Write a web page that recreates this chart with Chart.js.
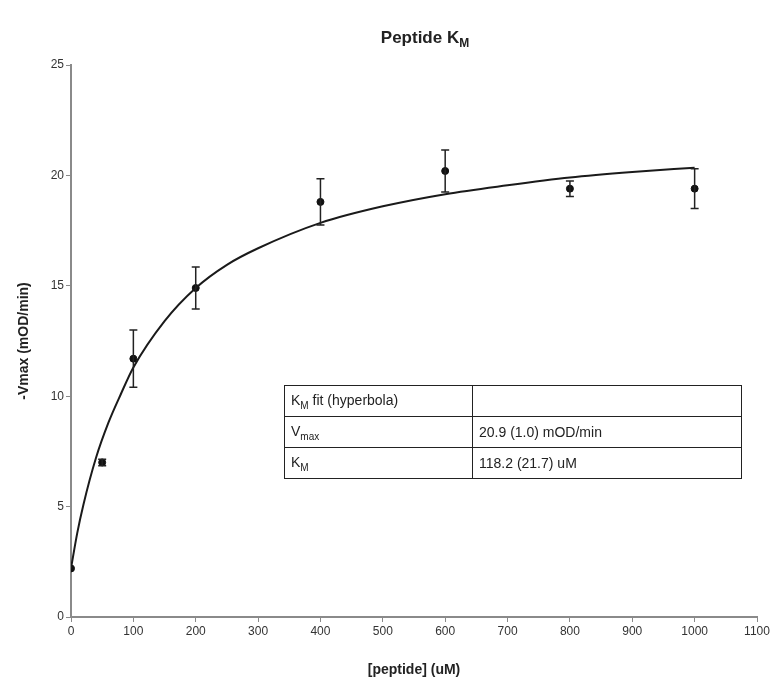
<!DOCTYPE html>
<html>
<head>
<meta charset="utf-8">
<title>Peptide KM</title>
<style>
body{margin:0;background:#fff;font-family:"Liberation Sans",Arial,sans-serif;}
#wrap{position:relative;width:776px;height:683px;}
#title{position:absolute;left:0;width:850px;top:28px;text-align:center;font-weight:bold;font-size:17px;color:#222;}
#title sub{font-size:12px;}
#fit{position:absolute;left:284px;top:385px;border-collapse:collapse;font-size:14px;color:#222;}
#fit td{border:1.5px solid #222;height:30px;padding:0 6px;vertical-align:middle;}
#fit td.k{width:175px;}
#fit td.v{width:256px;}
#fit sub{font-size:10px;}
</style>
</head>
<body>
<div id="wrap">
<canvas id="chart" width="776" height="683"></canvas>
<div id="title">Peptide K<sub>M</sub></div>
<table id="fit">
<tr><td class="k">K<sub>M</sub> fit (hyperbola)</td><td class="v"></td></tr>
<tr><td class="k">V<sub>max</sub></td><td class="v">20.9 (1.0) mOD/min</td></tr>
<tr><td class="k">K<sub>M</sub></td><td class="v">118.2 (21.7) uM</td></tr>
</table>
</div>
<script src="https://cdn.jsdelivr.net/npm/chart.js"></script>
<script>
// measured points
const concentrations = [0, 50, 100, 200, 400, 600, 800, 1000];
const rates = [2.2, 7.0, 11.7, 14.9, 18.8, 20.2, 19.4, 19.4];
const rateErrors = [0, 0.15, 1.3, 0.95, 1.05, 0.95, 0.35, 0.9];
// fitted curve
const fitX = [0, 10, 20, 40, 60, 80, 100, 150, 200, 250, 300, 400, 500, 600, 700, 800, 900, 1000];
const fitY = [2.2, 3.8, 5.1, 7.2, 8.8, 10.1, 11.3, 13.4, 14.9, 15.95, 16.7, 17.85, 18.6, 19.15, 19.55, 19.9, 20.15, 20.35];
const xTicks = [0, 100, 200, 300, 400, 500, 600, 700, 800, 900, 1000, 1100];
const yTicks = [0, 5, 10, 15, 20, 25];

const errorBars = {
  id:'errorBars',
  afterDatasetsDraw(chart){
    const c = chart.ctx, xs = chart.scales.x, ys = chart.scales.y;
    c.save();
    c.strokeStyle = '#222';
    c.lineWidth = 1.5;
    concentrations.forEach((x,i)=>{
      const e = rateErrors[i];
      if(!e) return;
      const px = xs.getPixelForValue(x);
      const top = ys.getPixelForValue(rates[i]+e);
      const bot = ys.getPixelForValue(rates[i]-e);
      c.beginPath();
      c.moveTo(px,top); c.lineTo(px,bot);
      c.moveTo(px-4,top); c.lineTo(px+4,top);
      c.moveTo(px-4,bot); c.lineTo(px+4,bot);
      c.stroke();
    });
    c.restore();
  }
};

const axisCol = '#8a8a8a';
const fam = '"Liberation Sans", Arial, sans-serif';
const tickFont = {family:fam, size:12};

new Chart(document.getElementById('chart'),{
  type:'scatter',
  data:{
    datasets:[
      {
        type:'line',
        data:fitX.map((x,i)=>({x:x,y:fitY[i]})),
        borderColor:'#1a1a1a',
        borderWidth:2,
        pointRadius:0,
        cubicInterpolationMode:'monotone',
        fill:false
      },
      {
        data:concentrations.map((x,i)=>({x:x,y:rates[i]})),
        backgroundColor:'#111',
        borderColor:'#111',
        pointRadius:3.5,
        showLine:false
      }
    ]
  },
  options:{
    responsive:false,
    animation:false,
    layout:{padding:{top:65,right:19,left:0,bottom:0}},
    plugins:{legend:{display:false},tooltip:{enabled:false}},
    scales:{
      x:{
        type:'linear',min:0,max:1100,
        afterBuildTicks:s=>{ s.ticks = xTicks.map(v=>({value:v})); },
        afterFit:s=>{ s.height = 66; },
        grid:{drawOnChartArea:false,drawTicks:true,tickLength:5,color:axisCol},
        border:{color:axisCol,width:2},
        ticks:{color:'#333',font:tickFont,padding:2,maxRotation:0,callback:v=>String(v)},
        title:{display:true,text:'[peptide] (uM)',color:'#222',font:{family:fam,size:14,weight:'bold'},padding:{top:8}}
      },
      y:{
        type:'linear',min:0,max:25,
        afterBuildTicks:s=>{ s.ticks = yTicks.map(v=>({value:v})); },
        afterFit:s=>{ s.width = 71; },
        grid:{drawOnChartArea:false,drawTicks:true,tickLength:5,color:axisCol},
        border:{color:axisCol,width:2},
        ticks:{color:'#333',font:tickFont,padding:2,callback:v=>String(v)},
        title:{display:true,text:'-Vmax (mOD/min)',color:'#222',font:{family:fam,size:14,weight:'bold'},padding:{top:16}}
      }
    }
  },
  plugins:[errorBars]
});
</script>
</body>
</html>
